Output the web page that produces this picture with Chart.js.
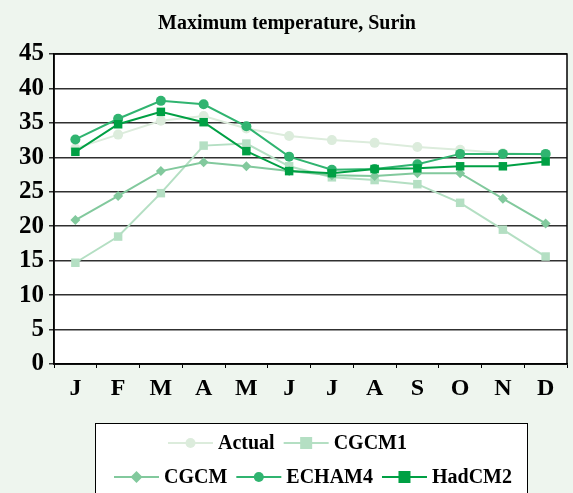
<!DOCTYPE html>
<html><head><meta charset="utf-8">
<script src="https://cdn.jsdelivr.net/npm/chart.js@4/dist/chart.umd.min.js"></script>
<style>html,body{margin:0;padding:0;background:#eef5ee;}#wrap{width:573px;height:493px;}</style>
</head><body><div id="wrap"><canvas id="c" width="573" height="493"></canvas></div>
<script>
const months = ['J','F','M','A','M','J','J','A','S','O','N','D'];
const actual = [31.3,33.3,35.3,36.0,34.2,33.1,32.5,32.1,31.5,31.1,30.6,30.4];
const cgcm1  = [14.7,18.5,24.8,31.7,32.0,28.7,27.1,26.7,26.1,23.4,19.5,15.6];
const cgcm   = [20.9,24.4,28.0,29.3,28.7,28.0,27.4,27.3,27.7,27.7,24.0,20.4];
const echam4 = [32.6,35.6,38.2,37.7,34.5,30.1,28.2,28.3,29.0,30.5,30.5,30.5];
const hadcm2 = [30.8,34.8,36.6,35.1,30.9,28.0,27.7,28.3,28.4,28.7,28.7,29.4];
const yTicks = [0,5,10,15,20,25,30,35,40,45];
const title = 'Maximum temperature, Surin';

const FONT = '"Liberation Serif", "Times New Roman", serif';
function ds(label, data, color, style, r, order){
  return {label, data, borderColor: color, backgroundColor: color, pointStyle: style, order,
    pointRadius: r, pointHoverRadius: r, borderWidth: 2, pointBorderWidth: 0, tension: 0};
}
const datasets = [
  ds('Actual', actual, '#dcecdc', 'circle', 5, 5),
  ds('CGCM1', cgcm1, '#b4dfc3', 'rect', 6, 4),
  ds('CGCM', cgcm, '#82c99d', 'rectRot', 5, 3),
  ds('ECHAM4', echam4, '#30b470', 'circle', 5, 2),
  ds('HadCM2', hadcm2, '#00a044', 'rect', 6, 1)
];

const deco = {
  id: 'deco',
  beforeDraw(chart){
    const {ctx, chartArea:a} = chart;
    ctx.save();
    ctx.fillStyle = '#eef5ee';
    ctx.fillRect(0,0,chart.width,chart.height);
    ctx.fillStyle = '#ffffff';
    ctx.fillRect(a.left,a.top,a.right-a.left,a.bottom-a.top);
    ctx.restore();
  },
  afterDraw(chart){
    const {ctx, chartArea:a} = chart;
    ctx.save();
    ctx.strokeStyle = '#000'; ctx.lineWidth = 1.5;
    ctx.strokeRect(a.left, a.top, a.right-a.left, a.bottom-a.top);
    ctx.fillStyle = '#000';
    ctx.font = 'bold 20px ' + FONT;
    ctx.textAlign = 'center'; ctx.textBaseline = 'alphabetic';
    ctx.fillText(title, 287, 29);
    ctx.fillStyle = '#fff';
    ctx.fillRect(95.5, 423.5, 432, 80);
    ctx.strokeStyle = '#000'; ctx.lineWidth = 1;
    ctx.strokeRect(95.5, 423.5, 432, 80);
    const rows = [{x:168, y:443, items:[0,1]}, {x:114, y:477, items:[2,3,4]}];
    ctx.textAlign = 'left'; ctx.textBaseline = 'middle';
    ctx.font = 'bold 20px ' + FONT;
    rows.forEach(row => {
      let x = row.x;
      row.items.forEach(i => {
        const d = chart.data.datasets[i];
        ctx.strokeStyle = d.borderColor; ctx.lineWidth = 2;
        ctx.beginPath(); ctx.moveTo(x, row.y); ctx.lineTo(x+45, row.y); ctx.stroke();
        ctx.fillStyle = d.backgroundColor;
        ctx.beginPath();
        const r = d.pointRadius, cx = x+22.5;
        if (d.pointStyle === 'circle') ctx.arc(cx, row.y, r, 0, Math.PI*2);
        else if (d.pointStyle === 'rect') ctx.rect(cx-r, row.y-r, 2*r, 2*r);
        else { ctx.moveTo(cx, row.y-r-1); ctx.lineTo(cx+r+1, row.y); ctx.lineTo(cx, row.y+r+1); ctx.lineTo(cx-r-1, row.y); ctx.closePath(); }
        ctx.fill();
        ctx.fillStyle = '#000';
        ctx.fillText(d.label, x+50, row.y+1);
        x += 50 + ctx.measureText(d.label).width + 9;
      });
    });
    ctx.restore();
  }
};

new Chart(document.getElementById('c'), {
  type: 'line',
  data: {labels: months, datasets},
  options: {
    responsive: false, animation: false,
    layout: {padding: {top: 54, left: 0, right: 4, bottom: 89}},
    plugins: {legend: {display: false}, title: {display: false}, tooltip: {enabled: false}},
    scales: {
      x: {
        offset: true,
        grid: {offset: true, drawOnChartArea: false, drawTicks: true, tickLength: 4, color: '#000', lineWidth: 1},
        border: {display: true, color: '#000', width: 1.5},
        ticks: {color: '#000', font: {family: FONT, size: 24, weight: 'bold'}, padding: 6, maxRotation: 0, autoSkip: false},
        afterFit(s){ s.height = 40; }
      },
      y: {
        min: 0, max: 45,
        afterBuildTicks(s){ s.ticks = yTicks.map(v => ({value: v})); },
        grid: {color: '#303030', lineWidth: 1.5, tickLength: 5, drawTicks: true},
        border: {display: true, color: '#000', width: 1.5},
        ticks: {color: '#000', font: {family: FONT, size: 25, weight: 'bold'}, padding: 5},
        afterFit(s){ s.width = 54; }
      }
    }
  },
  plugins: [deco]
});
</script>
</body></html>
